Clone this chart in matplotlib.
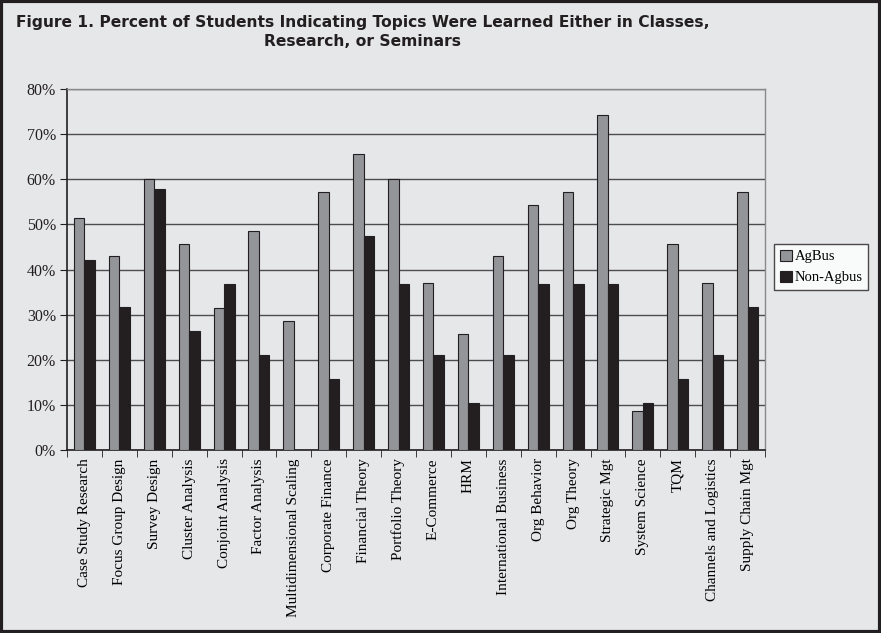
import matplotlib
matplotlib.use("Agg")
import matplotlib.pyplot as plt
import numpy as np
from matplotlib.ticker import FixedLocator, PercentFormatter

categories = ["Case Study Research", "Focus Group Design", "Survey Design", "Cluster Analysis",
              "Conjoint Analysis", "Factor Analysis", "Multidimensional Scaling", "Corporate Finance",
              "Financial Theory", "Portfolio Theory", "E-Commerce", "HRM", "International Business",
              "Org Behavior", "Org Theory", "Strategic Mgt", "System Science", "TQM",
              "Channels and Logistics", "Supply Chain Mgt"]
agbus = [51.4, 42.9, 60.0, 45.7, 31.4, 48.6, 28.6, 57.1, 65.7, 60.0, 37.1, 25.7, 42.9,
         54.3, 57.1, 74.3, 8.6, 45.7, 37.1, 57.1]
non_agbus = [42.1, 31.6, 57.9, 26.3, 36.8, 21.1, 0.0, 15.8, 47.4, 36.8, 21.1, 10.5, 21.1,
             36.8, 36.8, 36.8, 10.5, 15.8, 21.1, 31.6]
yticks = [0, 10, 20, 30, 40, 50, 60, 70, 80]

W, H = 881, 633
bg = "#e6e7e8"
fig = plt.figure(figsize=(W/100, H/100), dpi=100, facecolor=bg)
ax = fig.add_axes([67/W, 1-450/H, (765-67)/W, (450-89)/H], facecolor=bg)

x = np.arange(len(categories))
bw = 0.3
ax.bar(x - bw/2, agbus, bw, color="#939598", edgecolor="#231f20", linewidth=0.8, label="AgBus", zorder=3)
ax.bar(x + bw/2, non_agbus, bw, color="#231f20", edgecolor="#231f20", linewidth=0.8, label="Non-Agbus", zorder=3)

ax.set_xlim(-0.5, len(categories) - 0.5)
ax.set_ylim(0, 80)
ax.set_yticks(yticks)
ax.yaxis.set_major_formatter(PercentFormatter(decimals=0))
ax.grid(axis="y", color="#4d4d4f", linewidth=1.0, zorder=0)
ax.set_axisbelow(True)

ax.set_xticks(x)
ax.set_xticklabels(categories, rotation=90, family="Liberation Serif", fontsize=11, va="top")
ax.tick_params(axis="x", which="major", length=0, pad=6)
ax.xaxis.set_minor_locator(FixedLocator(np.arange(-0.5, len(categories), 1)))
ax.tick_params(axis="x", which="minor", length=5, color="#231f20", direction="out")
ax.tick_params(axis="y", length=5, color="#231f20", direction="out", pad=3,
               labelsize=11.5, labelfontfamily="Liberation Serif", labelcolor="#231f20")

for s in ["left", "bottom"]:
    ax.spines[s].set_color("#231f20")
    ax.spines[s].set_linewidth(1.2)
for s in ["right", "top"]:
    ax.spines[s].set_color("#8a8a8c")
    ax.spines[s].set_linewidth(1.0)

leg = ax.legend(loc="center left", bbox_to_anchor=(774/W, 1-267/H), bbox_transform=fig.transFigure,
                frameon=True, fancybox=False, edgecolor="#231f20", facecolor="white",
                prop={"family": "Liberation Serif", "size": 10.5},
                handlelength=0.8, handleheight=0.8, handletextpad=0.2, borderpad=0.4,
                borderaxespad=0, labelspacing=0.5)
leg.get_frame().set_linewidth(1.0)

fig.text(363/W, 1-32/H, "Figure 1. Percent of Students Indicating Topics Were Learned Either in Classes,\nResearch, or Seminars",
         ha="center", va="center", multialignment="center", fontsize=11.2, fontweight="bold",
         family="DejaVu Sans", color="#231f20", linespacing=1.3)

fig.patches.append(plt.Rectangle((0.0015, 0.002), 0.997, 0.996, transform=fig.transFigure,
                                 fill=False, edgecolor="#231f20", linewidth=3))

fig.savefig("out.png", dpi=100, facecolor=bg)
